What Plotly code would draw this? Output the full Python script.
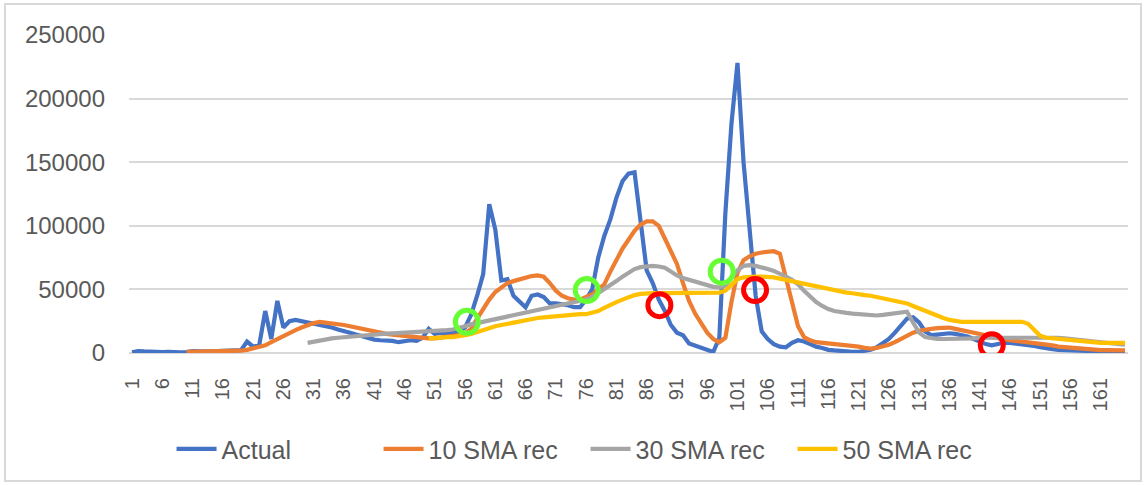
import plotly.graph_objects as go

categories = list(range(1, 166))
tick_labels = [str(c) for c in range(1, 166, 5)]

actual = [
    500, 1500, 1200, 800, 600, 700, 1000, 600, 500, 800,
    1500, 1200, 1000, 1200, 1500, 1800, 2000, 2000, 2200, 9000,
    5000, 6000, 33000, 11000, 41000, 20000, 25000, 26000, 25000, 24000,
    23500, 22500, 21500, 20000, 18500, 17500, 16000, 14500, 13000, 11500,
    10500, 10000, 10000, 9500, 8500, 9000, 10000, 9500, 12000, 19000,
    15000, 16000, 15500, 16000, 17000, 20000, 30000, 45000, 62000, 117000,
    97000, 57000, 58000, 45000, 40000, 36000, 45000, 46000, 44000, 39000,
    39000, 38500, 37500, 36000, 36000, 42000, 50000, 75000, 92000, 105000,
    122000, 135000, 141000, 142000, 105000, 65000, 55000, 42000, 33000, 22000,
    16000, 14000, 7500, 6000, 4500, 2500, 800, 12000, 110000, 180000,
    228000, 150000, 95000, 45000, 17000, 11000, 7000, 5000, 4500, 8000,
    10000, 9000, 7000, 5000, 4000, 2500, 2000, 1500, 1000, 1000,
    1000, 1500, 2500, 4500, 7500, 11000, 16000, 22000, 27000, 28000,
    24000, 17000, 14000, 14500, 15000, 15500, 15000, 14000, 13000, 11000,
    9000, 7000, 6000, 7000, 8000, 8000, 7500, 7000, 6500, 5500,
    4500, 3500, 3000, 2500, 2200, 2000, 1800, 1500, 1500, 1300,
    1200, 1200, 1000, 1000, 1000,
]

sma10_start = 10
sma10 = [
    1000, 1000, 1100, 1100, 1200, 1200, 1300, 1300, 1500, 1800,
    2500, 3500, 4500, 6000, 8500, 11000, 13000, 15500, 18000, 20000,
    22000, 23500, 24500, 24000, 23500, 22500, 22000, 21000, 20000, 18500,
    17500, 16500, 15500, 15000, 14500, 14000, 13500, 12500, 12000, 11500,
    11500, 11500, 12000, 12500, 13500, 14000, 15500, 19000, 27000, 35000,
    42000, 48000, 52000, 55000, 56500, 58000, 59000, 60500, 61000, 60000,
    55000, 49000, 45000, 43000, 42000, 42000, 44000, 46000, 50000, 54000,
    64000, 73000, 82000, 89000, 96000, 101000, 103500, 103500, 100000, 90000,
    80000, 70000, 55000, 41000, 31000, 24000, 16000, 11000, 8500, 12000,
    40000, 63000, 73000, 76000, 78000, 79000, 79500, 80000, 78000, 60000,
    39000, 21000, 12500, 10000, 8500, 8000, 7500, 7000, 7000, 6500,
    6000, 5000, 4000, 3500, 4000, 5000, 6500, 8500, 11000, 13500,
    16000, 17500, 18500, 19000, 19500, 20000, 20000, 19000, 18000, 17500,
    16500, 15500, 14000, 12500, 11500, 10500, 10000, 9500, 9000, 8500,
    7500, 7000, 6500, 6000, 5000, 4500, 4000, 3500, 3000, 2500,
    2500, 2300, 2200, 2100, 2000, 2000,
]

sma30_start = 30
sma30 = [
    8000, 9000, 10000, 10500, 11500, 12000, 12500, 13000, 13500, 14000,
    14500, 14800, 15000, 15200, 15500, 15700, 16000, 16200, 16500, 16700,
    17000, 17300, 17500, 18000, 18500, 19500, 21000, 22500, 23500, 24500,
    25500, 26500, 27500, 28500, 29500, 30500, 31500, 32500, 33500, 34500,
    35500, 36500, 37500, 38500, 39500, 40500, 42000, 44000, 47000, 50000,
    53000, 56500, 60000, 63500, 66000, 67500, 68000, 68500, 68000, 67000,
    64000, 61000, 59000, 57500, 56000, 54500, 53000, 52000, 51500, 53000,
    59000, 65000, 68500, 69000, 68500, 67500, 66000, 64500, 62500, 60000,
    57500, 54000, 49000, 44000, 40000, 37000, 34500, 33000, 32000, 31500,
    31000, 30500, 30000, 29500, 29500, 30000, 30500, 31000, 32000, 32500,
    24000, 16000, 12500, 11500, 11000, 11000, 11000, 11000, 11000, 11500,
    11500, 12000, 12000, 12000, 12500, 12500, 12500, 12500, 12500, 12500,
    12500, 12500, 12500, 12000, 12000, 11500, 11000, 10500, 10000, 9500,
    9000, 8500, 8000, 7500, 7000, 6500,
]

sma50_start = 50
sma50 = [
    11500, 12000, 12000, 12500, 12500, 13000, 14000, 15000, 16500, 18500,
    20000, 21000, 22000, 23000, 24000, 25000, 26000, 27000, 27500, 28000,
    28500, 29000, 29500, 30000, 30000, 30500, 30500, 31500, 33000, 35500,
    38000, 40000, 42000, 44000, 45500, 46500, 47000, 47000, 47000, 47000,
    47000, 47000, 47000, 47000, 47000, 47000, 47500, 47500, 47500, 49000,
    54000, 58000, 59500, 60000, 60000, 60000, 60000, 59500, 58500, 57500,
    56000, 55000, 54000, 53000, 52000, 51000, 50000, 49500, 48500, 47500,
    47000, 46000, 45500, 45000, 44000, 43000, 42000, 41000, 40000, 39000,
    37000, 35000, 33000, 31000, 29000, 27500, 26000, 25000, 24500, 24500,
    24500, 24500, 24500, 24500, 24500, 24500, 24500, 24500, 24500, 23000,
    18000, 13500, 12000, 11500, 11000, 10500, 10500, 10000, 9500, 9000,
    8500, 8000, 8000, 8000, 8000, 8000,
]

green_x = [56.3, 76.1, 98.4]
green_y = [24500, 49500, 63900]
red_x = [88.1, 103.9, 143.0]
red_y = [37600, 49500, 6000]

series = [
    ("Actual", categories, actual, "#4472C4"),
    ("10 SMA rec", categories[sma10_start - 1:sma10_start - 1 + len(sma10)], sma10, "#ED7D31"),
    ("30 SMA rec", categories[sma30_start - 1:sma30_start - 1 + len(sma30)], sma30, "#A5A5A5"),
    ("50 SMA rec", categories[sma50_start - 1:sma50_start - 1 + len(sma50)], sma50, "#FFC000"),
]

fig = go.Figure()
for name, xs, ys, col in series:
    fig.add_trace(go.Scatter(x=xs, y=ys, mode="lines", name=name,
                             line=dict(color=col, width=4.2)))

fig.add_trace(go.Scatter(x=green_x, y=green_y, mode="markers", showlegend=False,
                         marker=dict(symbol="circle-open", size=23, color="#66FF33",
                                     line=dict(width=5, color="#66FF33"))))
fig.add_trace(go.Scatter(x=red_x, y=red_y, mode="markers", showlegend=False,
                         marker=dict(symbol="circle-open", size=23, color="#FF0000",
                                     line=dict(width=5, color="#FF0000"))))

font_col = "#595959"
fig.update_layout(
    width=1146, height=485,
    margin=dict(l=129, r=18, t=35, b=132, autoexpand=False),
    paper_bgcolor="white", plot_bgcolor="white",
    font=dict(family="Liberation Sans, Arial, sans-serif", color=font_col),
    showlegend=True,
    legend=dict(orientation="h", x=0.457, xanchor="center", y=-0.302, yanchor="middle",
                font=dict(size=25, color=font_col), itemwidth=40,
                entrywidth=152, entrywidthmode="pixels",
                bgcolor="rgba(0,0,0,0)"),
    xaxis=dict(range=[0.5, 165.5], tickmode="array", automargin=False,
               tickvals=list(range(1, 166, 5)), ticktext=tick_labels,
               tickangle=-90, tickfont=dict(size=20, color=font_col),
               showgrid=False, zeroline=False, showline=False, ticks="",
               ticklabelstandoff=20),
    yaxis=dict(range=[0, 250000], tickvals=[0, 50000, 100000, 150000, 200000, 250000],
               automargin=False,
               tickformat="d", tickfont=dict(size=24, color=font_col),
               showgrid=True, gridcolor="#D9D9D9", gridwidth=2,
               zeroline=True, zerolinecolor="#D9D9D9", zerolinewidth=2,
               showline=False, ticks="", ticklabelstandoff=23),
    shapes=[dict(type="rect", xref="paper", yref="paper",
                 x0=(5 - 129) / 999, x1=(1141 - 129) / 999,
                 y0=(353 - 481) / 318, y1=(353 - 4) / 318,
                 line=dict(color="#D9D9D9", width=2), layer="below")],
)

fig.write_html("out.html", config={"displayModeBar": False},
               post_script="document.body.style.margin='0';")
